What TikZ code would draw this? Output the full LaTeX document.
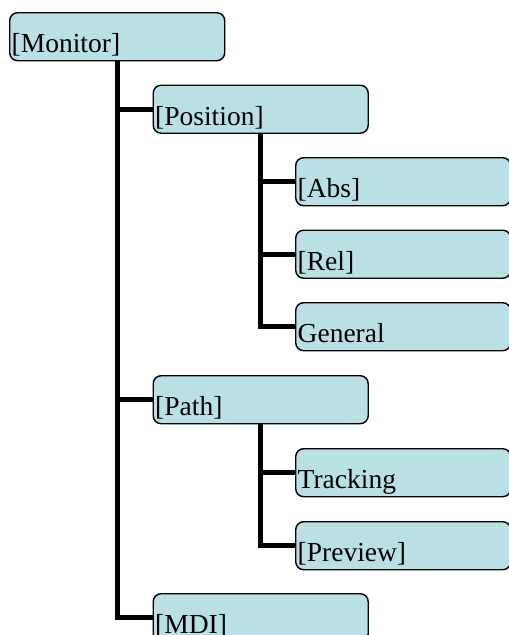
\documentclass[tikz,border=0pt]{standalone}
\usepackage{fontspec}
\setmainfont{Liberation Serif}
\usetikzlibrary{positioning}

\definecolor{boxfill}{RGB}{185,224,228}

\tikzset{
    entry/.style={draw=black, line width=1.4pt, fill=boxfill, rounded corners=8pt,
        anchor=north west, inner xsep=2pt, inner ysep=0pt,
        text width=211pt, text height=40pt, text depth=8pt, align=left,
        font=\fontsize{27.5}{30}\selectfont},
    branch/.style={line width=5pt}
}

\begin{document}
\begin{tikzpicture}[x=1pt, y=-1pt]

        % picture frame, boxes on the edge are cut off
        \clip (0,0) rectangle (509,635);

        % the root box
        \node[entry] (monitor) at (9,12) {[Monitor]};

        % the boxes one level down
        \node[entry] (position) at (152.5,84.5) {[Position]};
        \node[entry] (path) at (152.5,375) {[Path]};
        \node[entry] (mdi) at (152.5,593) {[MDI]};

        % the boxes under Position
        \node[entry] (abs) at (295,157) {[Abs]};
        \node[entry] (rel) at (295,229.5) {[Rel]};
        \node[entry] (general) at (295,302) {General};

        % the boxes under Path
        \node[entry] (tracking) at (295,448) {Tracking};
        \node[entry] (preview) at (295,521) {[Preview]};

        % the thick lines from each box to its children
        \foreach \child in {position, path, mdi}
        \draw[branch] (monitor.south) |- (\child.west);
        \foreach \child in {abs, rel, general}
        \draw[branch] (position.south) |- (\child.west);
        \foreach \child in {tracking, preview}
        \draw[branch] (path.south) |- (\child.west);
    \end{tikzpicture}
\end{document}
